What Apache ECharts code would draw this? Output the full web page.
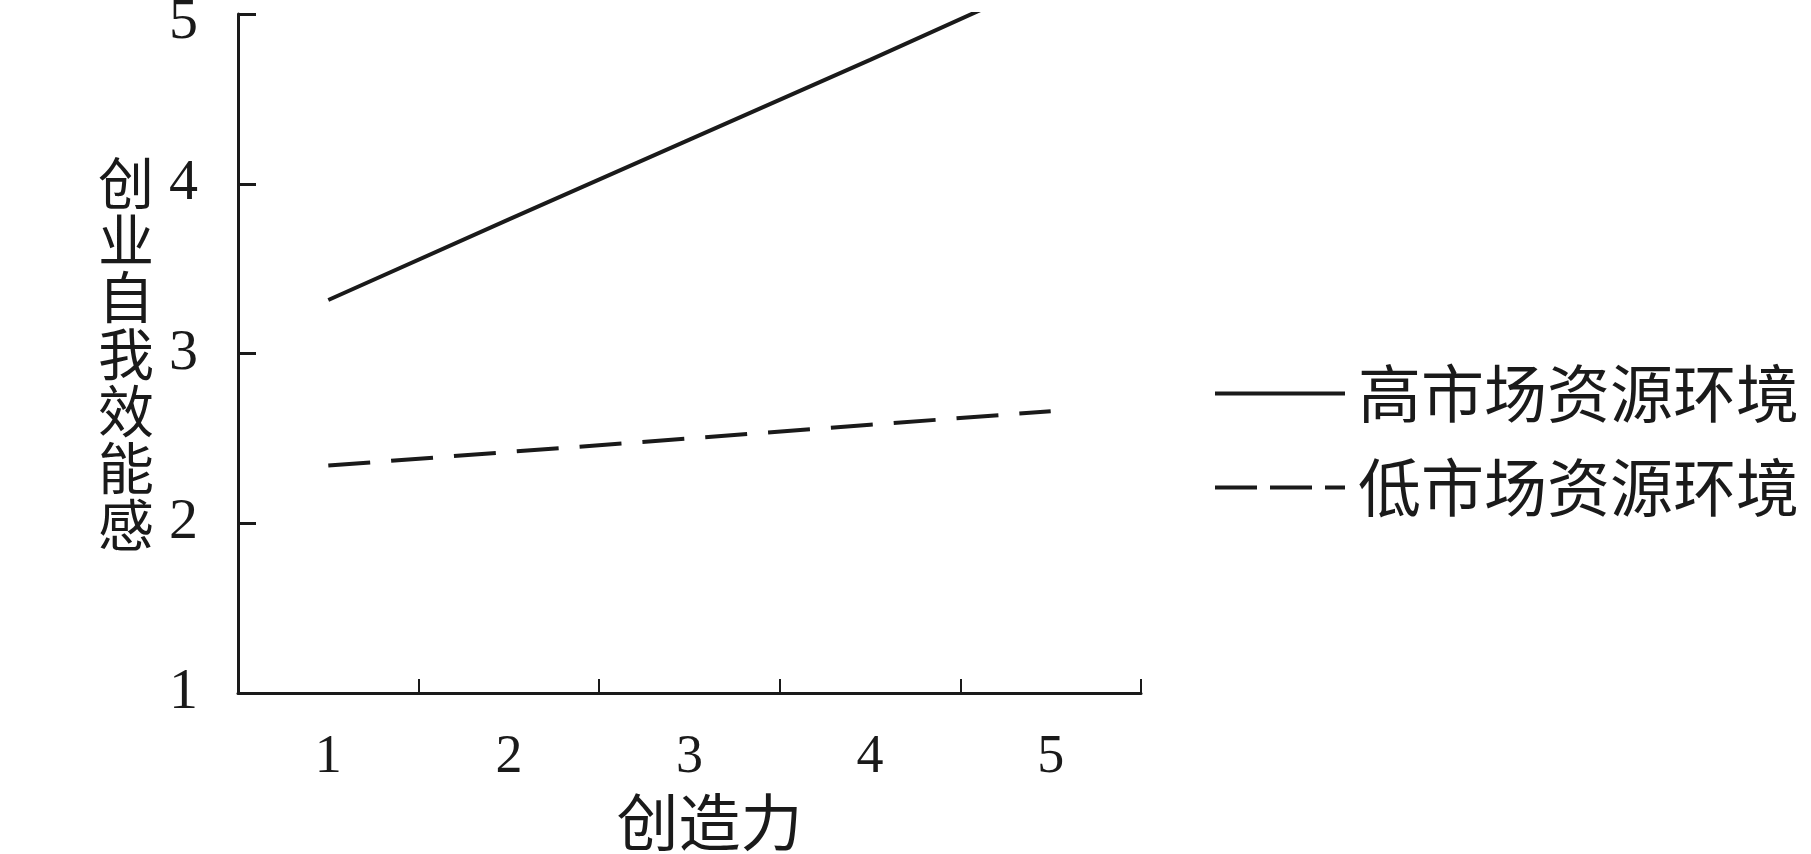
<!DOCTYPE html>
<html>
<head>
<meta charset="utf-8">
<script src="https://cdn.jsdelivr.net/npm/echarts@6/dist/echarts.min.js"></script>
<style>
html,body{margin:0;padding:0;background:#fff;}
#chart{width:1811px;height:854px;}
</style>
</head>
<body>
<div id="chart"></div>
<script>
const categories = ['1', '2', '3', '4', '5'];
const highValues = [3.315, 3.79, 4.26, 4.73, 5.21];
const lowValues = [2.34, 2.42, 2.50, 2.58, 2.66];
const seriesNames = ['高市场资源环境', '低市场资源环境'];
const xAxisName = '创造力';
const yAxisName = '创业自我效能感';

const ink = '#1a1a1a';
const cjk = '"Noto Sans CJK SC", "Noto Sans", sans-serif';
const serif = '"Liberation Serif", "DejaVu Serif", serif';
const hidden = {color: 'rgba(0,0,0,0)', opacity: 0, borderWidth: 0};

const chart = echarts.init(document.getElementById('chart'), null, {renderer: 'canvas'});
chart.setOption({
  backgroundColor: '#ffffff',
  animation: false,
  grid: {left: 238, right: 670, top: 14, bottom: 161, containLabel: false, outerBoundsMode: 'none'},
  legend: {
    orient: 'vertical',
    left: 1208,
    top: 357,
    itemWidth: 130,
    itemHeight: 60,
    itemGap: 31,
    textStyle: {fontFamily: cjk, fontSize: 63, color: ink, lineHeight: 62, padding: [0, 0, 0, 8]},
    data: [
      {name: seriesNames[0], itemStyle: hidden, lineStyle: {type: 'solid', width: 4, color: ink}},
      {name: seriesNames[1], itemStyle: hidden, lineStyle: {type: [42, 13], width: 4, color: ink}}
    ]
  },
  xAxis: {
    type: 'category',
    data: categories,
    boundaryGap: true,
    name: xAxisName,
    nameLocation: 'middle',
    nameGap: 98,
    nameTextStyle: {fontFamily: cjk, fontSize: 62, color: ink, padding: [0, 0, 0, 40]},
    axisLine: {show: true, lineStyle: {color: ink, width: 3}},
    axisTick: {show: true, inside: true, length: 14, alignWithLabel: false, lineStyle: {color: ink, width: 2}},
    axisLabel: {fontFamily: serif, fontSize: 54, color: ink, margin: 38},
    splitLine: {show: false}
  },
  yAxis: {
    type: 'value',
    min: 1,
    max: 5,
    interval: 1,
    name: yAxisName.split('').join('\n'),
    nameLocation: 'middle',
    nameRotate: 0,
    nameGap: 84,
    nameTextStyle: {fontFamily: cjk, fontSize: 56, color: ink, lineHeight: 57, align: 'right', verticalAlign: 'middle'},
    axisLine: {show: true, lineStyle: {color: ink, width: 3}},
    axisTick: {show: true, inside: true, length: 18, lineStyle: {color: ink, width: 3}},
    axisLabel: {
      fontFamily: serif, fontSize: 58, color: ink, margin: 40,
      formatter: function (v) { return Number(v) >= 5 ? '{top|' + v + '}' : String(v); },
      rich: {top: {fontFamily: serif, fontSize: 58, color: ink, padding: [18, 0, 0, 0]}}
    },
    splitLine: {show: false}
  },
  series: [
    {
      name: seriesNames[0],
      type: 'line',
      data: highValues,
      showSymbol: false,
      symbol: 'none',
      clip: true,
      lineStyle: {color: ink, width: 4, type: 'solid'},
      itemStyle: {color: ink}
    },
    {
      name: seriesNames[1],
      type: 'line',
      data: lowValues,
      showSymbol: false,
      symbol: 'none',
      clip: true,
      lineStyle: {color: ink, width: 4, type: [42, 21]},
      itemStyle: {color: ink}
    }
  ]
});
</script>
</body>
</html>
